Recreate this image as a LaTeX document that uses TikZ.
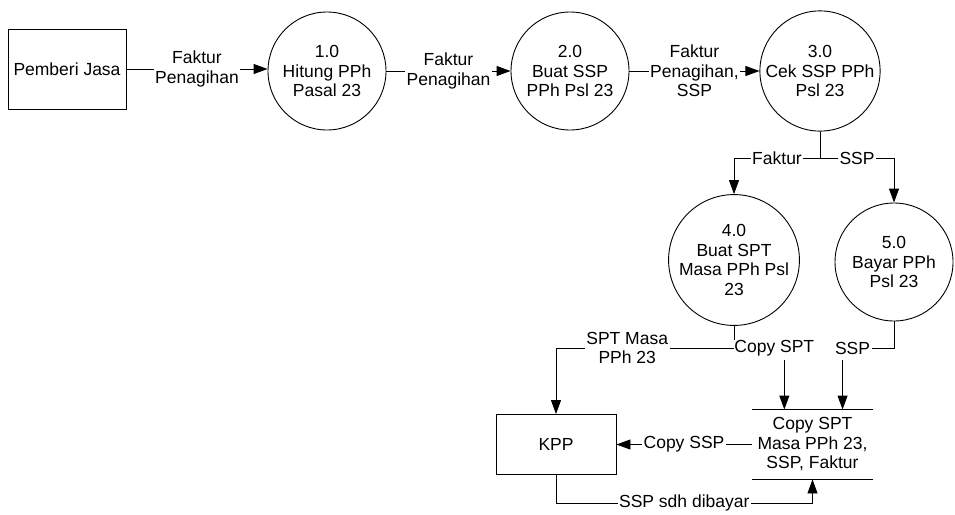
\documentclass[tikz,border=0pt]{standalone}
\usepackage{fontspec}
\setmainfont{Liberation Sans}
\usetikzlibrary{arrows.meta,calc}
\tikzset{
  ext/.style={draw, rectangle, align=center, inner sep=0pt},
  proc/.style={draw, circle, minimum size=118pt, align=center, inner sep=0pt},
  store/.style={align=center, minimum width=121pt, minimum height=69pt, inner sep=0pt},
  lbl/.style={fill=white, align=center, inner sep=1.5pt},
  arr/.style={-{Triangle[length=14pt,width=10pt]}},
}
\begin{document}
\begin{tikzpicture}[x=1pt,y=-1pt, line width=0.9pt, font=\fontsize{17.5}{19.5}\selectfont]
\useasboundingbox[fill=white] (0,0) rectangle (955,514);
% nodes
\node[ext, minimum width=118pt, minimum height=80pt] (pj) at (67,69) {Pemberi Jasa};
\node[proc] (p1) at (327,71) {1.0\\Hitung PPh\\Pasal 23};
\node[proc] (p2) at (570,71) {2.0\\Buat SSP\\PPh Psl 23};
\node[proc] (p3) at (820,71) {3.0\\Cek SSP PPh\\Psl 23};
\node[proc] (p4) at (734,260) {4.0\\Buat SPT\\Masa PPh Psl\\23};
\node[proc] (p5) at (894,262) {5.0\\Bayar PPh\\Psl 23};
\node[ext, minimum width=120pt, minimum height=60pt] (kpp) at (556,444.5) {KPP};
\node[store] (st) at (812.5,444.5) {Copy SPT\\Masa PPh 23,\\SSP, Faktur};
\draw (st.north west) -- (st.north east);
\draw (st.south west) -- (st.south east);
% top row
\draw[arr] (pj.east) -- node[lbl]{Faktur\\Penagihan} (pj.east -| p1.west);
\draw[arr] (p1.east) -- node[lbl]{Faktur\\Penagihan} (p2.west);
\draw[arr] (p2.east) -- node[lbl]{Faktur\\Penagihan,\\SSP} (p3.west);
% split from 3.0
\coordinate (j) at (820,158);
\draw (p3.south) -- (j);
\draw[arr] (j) -- node[lbl]{Faktur} (j -| p4) -- (p4.north);
\draw[arr] (j) -- node[lbl]{SSP} (j -| p5) -- (p5.north);
% from 4.0
\coordinate (k4) at (734,348);
\draw[arr] (p4.south) -- (k4) -- node[lbl,pos=0.6]{SPT Masa\\PPh 23} (k4 -| kpp) -- (kpp.north);
\node[lbl, anchor=west, inner sep=0pt] (cspt) at (k4) {Copy SPT};
\coordinate (a1) at ([xshift=10pt,yshift=-4pt]cspt.south);
\draw[arr] (a1) -- (a1 |- st.north);
% from 5.0
\node[lbl, anchor=east] (sspl) at (872,348) {SSP};
\draw (p5.south) -- (p5.south |- sspl.east) -- (sspl.east);
\coordinate (a2) at ([xshift=-10pt,yshift=-4pt]sspl.south);
\draw[arr] (a2) -- (a2 |- st.north);
% store -> KPP
\draw[arr] (st.west) -- node[lbl]{Copy SSP} (kpp.east);
% KPP -> store
\coordinate (bot) at (0,503);
\draw[arr] (kpp.south) -- (kpp.south |- bot) -- node[lbl]{SSP sdh dibayar} (st.south |- bot) -- (st.south);
\end{tikzpicture}
\end{document}
